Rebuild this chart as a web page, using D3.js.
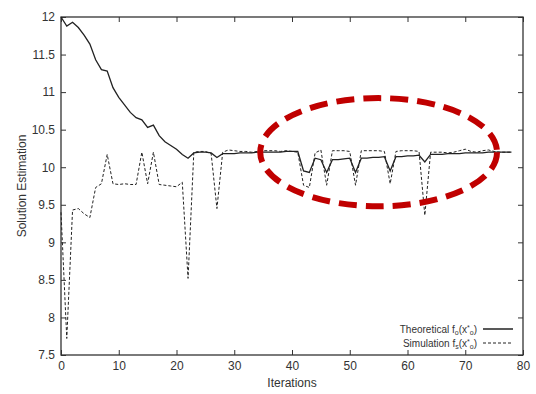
<!DOCTYPE html>
<html>
<head>
<meta charset="utf-8">
<script src="https://cdn.jsdelivr.net/npm/d3@7"></script>
<style>
  body { margin: 0; background: #fff; }
  svg { display: block; font-family: "Liberation Sans", Arial, sans-serif; }
</style>
</head>
<body>
<script>
// solution estimate per iteration (index = iteration)
const theoretical = [
    12.0, 11.88, 11.93, 11.86, 11.76, 11.64, 11.43, 11.3, 11.28, 11.06,
    10.93, 10.83, 10.73, 10.66, 10.63, 10.53, 10.56, 10.42, 10.34, 10.29,
    10.24, 10.17, 10.12, 10.19, 10.2, 10.2, 10.19, 10.13, 10.18, 10.18,
    10.18, 10.19, 10.19, 10.19, 10.2, 10.2, 10.2, 10.2, 10.2, 10.21,
    10.21, 10.21, 9.95, 9.93, 10.12, 10.1, 9.93, 10.1, 10.1, 10.11,
    10.12, 9.93, 10.12, 10.12, 10.13, 10.13, 10.14, 9.95, 10.14, 10.14,
    10.15, 10.15, 10.16, 10.07, 10.17, 10.17, 10.17, 10.18, 10.18, 10.18,
    10.19, 10.19, 10.19, 10.19, 10.2, 10.2, 10.2, 10.2, 10.2
];
const simulation = [
    9.4, 7.72, 9.43, 9.45, 9.38, 9.33, 9.73, 9.78, 10.17, 9.78,
    9.77, 9.78, 9.77, 9.77, 10.2, 9.78, 10.2, 9.77, 9.76, 9.75,
    9.74, 9.8, 8.52, 10.2, 10.21, 10.21, 10.18, 9.45, 10.2, 10.23,
    10.22, 10.21, 10.21, 10.2, 10.21, 10.22, 10.22, 10.22, 10.21, 10.22,
    10.21, 10.2, 9.76, 9.73, 10.19, 10.23, 9.76, 10.22, 10.22, 10.22,
    10.21, 9.76, 10.22, 10.22, 10.22, 10.22, 10.21, 9.78, 10.21, 10.22,
    10.22, 10.22, 10.21, 9.36, 10.2, 10.2, 10.2, 10.19, 10.2, 10.22,
    10.24, 10.21, 10.2, 10.22, 10.23, 10.21, 10.2, 10.2, 10.2
];
const xTicks = [0, 10, 20, 30, 40, 50, 60, 70, 80];
const yTicks = [7.5, 8, 8.5, 9, 9.5, 10, 10.5, 11, 11.5, 12];

// highlight ellipse in data units: centre x, centre y, radius x, radius y
const highlight = [55, 10.2, 20.5, 0.72];

const W = 536, H = 394;
const margin = { top: 17, right: 13, bottom: 39, left: 61 },
    width = W - margin.left - margin.right,
    height = H - margin.top - margin.bottom;

const svg = d3.select("body").append("svg")
    .attr("width", W)
    .attr("height", H);

const g = svg.append("g")
    .attr("transform", "translate(" + margin.left + "," + margin.top + ")");

const x = d3.scaleLinear().domain([0, 80]).range([0, width]);
const y = d3.scaleLinear().domain([7.5, 12]).range([height, 0]);

// axes, ticks pointing inward like gnuplot
const styleAxis = sel => {
    sel.select(".domain").remove();
    sel.selectAll("line").attr("stroke", "#333").attr("stroke-width", 1);
    sel.selectAll("text").attr("fill", "#333").style("font-size", "12px");
};

g.append("g")
    .attr("transform", "translate(0," + height + ")")
    .call(d3.axisBottom(x).tickValues(xTicks).tickSize(-5).tickPadding(6))
    .call(styleAxis);
g.append("g")
    .call(d3.axisTop(x).tickValues(xTicks).tickSize(-5).tickFormat(""))
    .call(styleAxis);
g.append("g")
    .call(d3.axisLeft(y).tickValues(yTicks).tickSize(-5).tickPadding(6).tickFormat(d3.format("")))
    .call(styleAxis);
g.append("g")
    .attr("transform", "translate(" + width + ",0)")
    .call(d3.axisRight(y).tickValues(yTicks).tickSize(-5).tickFormat(""))
    .call(styleAxis);

g.append("rect")
    .attr("width", width)
    .attr("height", height)
    .attr("fill", "none")
    .attr("stroke", "#333")
    .attr("stroke-width", 1.3);

// lines
const line = d3.line()
    .x((d, i) => x(i))
    .y(d => y(d));

g.append("path")
    .datum(theoretical)
    .attr("d", line)
    .attr("fill", "none")
    .attr("stroke", "#222")
    .attr("stroke-width", 1.3);

g.append("path")
    .datum(simulation)
    .attr("d", line)
    .attr("fill", "none")
    .attr("stroke", "#222")
    .attr("stroke-width", 1)
    .attr("stroke-dasharray", "3,2");

// red dashed ellipse
g.append("ellipse")
    .attr("cx", x(highlight[0]))
    .attr("cy", y(highlight[1]))
    .attr("rx", x(highlight[2]) - x(0))
    .attr("ry", y(0) - y(highlight[3]))
    .attr("fill", "none")
    .attr("stroke", "#c00000")
    .attr("stroke-width", 6)
    .attr("stroke-dasharray", "18,9");

// axis titles
svg.append("text")
    .attr("x", margin.left + width / 2)
    .attr("y", 387)
    .attr("text-anchor", "middle")
    .attr("fill", "#333")
    .style("font-size", "12px")
    .text("Iterations");

svg.append("text")
    .attr("transform", "translate(26," + (margin.top + height / 2) + ") rotate(-90)")
    .attr("text-anchor", "middle")
    .attr("fill", "#333")
    .style("font-size", "12px")
    .text("Solution Estimation");

// legend
const legend = svg.append("g").attr("transform", "translate(477,0)");
const legendRows = [
    { label: "Theoretical f", sub: "o", dash: null, y: 333 },
    { label: "Simulation f", sub: "s", dash: "3,2", y: 347 }
];
legendRows.forEach(r => {
    const t = legend.append("text")
        .attr("x", 0)
        .attr("y", r.y)
        .attr("text-anchor", "end")
        .attr("fill", "#333")
        .style("font-size", "10px");
    t.append("tspan").text(r.label);
    t.append("tspan").attr("dy", 2).style("font-size", "7px").text(r.sub);
    t.append("tspan").attr("dy", -2).text("(x");
    t.append("tspan").attr("dy", -3).style("font-size", "7px").text("*");
    t.append("tspan").attr("dy", 5).style("font-size", "7px").text("o");
    t.append("tspan").attr("dy", -2).text(")");
    legend.append("line")
        .attr("x1", 6).attr("x2", 36)
        .attr("y1", r.y - 4).attr("y2", r.y - 4)
        .attr("stroke", "#222")
        .attr("stroke-width", r.dash ? 1 : 1.5)
        .attr("stroke-dasharray", r.dash);
});
</script>
</body>
</html>
